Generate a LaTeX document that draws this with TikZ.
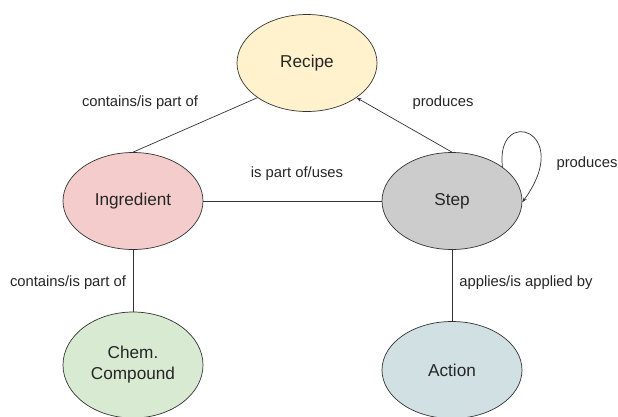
\documentclass[tikz,border=0pt]{standalone}
\usepackage{fontspec}
\setmainfont{Liberation Sans}
\usetikzlibrary{shapes.geometric,arrows.meta}
\definecolor{cRecipe}{HTML}{FFF2CC}
\definecolor{cIngr}{HTML}{F4CCCC}
\definecolor{cStep}{HTML}{CCCCCC}
\definecolor{cChem}{HTML}{D9EAD3}
\definecolor{cAction}{HTML}{D0E0E3}
\definecolor{cLine}{HTML}{333333}
\begin{document}
\begin{tikzpicture}[x=1pt,y=-1pt,
  ent/.style={ellipse,draw=cLine,line width=0.7pt,minimum width=140pt,minimum height=97pt,inner sep=0pt,font=\fontsize{17.2}{21}\selectfont,align=center,text=black!85},
  lbl/.style={font=\fontsize{14.8}{18}\selectfont,text=black!85},
  conn/.style={draw=cLine,line width=0.7pt},
  tip/.style={-{Stealth[length=5pt,width=3.5pt]}}]
\useasboundingbox[fill=white] (0,0) rectangle (618,416);
\node[ent,fill=cRecipe] (rec) at (307,63) {Recipe};
\node[ent,fill=cIngr] (ing) at (133,201) {Ingredient};
\node[ent,fill=cStep] (stp) at (452,201) {Step};
\node[ent,fill=cChem,minimum height=106pt] (chem) at (133,365) {Chem.\\Compound};
\node[ent,fill=cAction] (act) at (452,370) {Action};

\draw[conn] (ing.north) -- (rec.215);
\draw[conn,tip] (stp.north) -- (rec.325);
\draw[conn] (ing.east) -- (stp.west);
\draw[conn] (ing.south) -- (chem.north);
\draw[conn] (stp.south) -- (act.north);
\draw[conn,tip] (stp.34) .. controls (495,105) and (575,130) .. (stp.-1);

\node[lbl] (l1) at (140,103) {contains/is part of};
\node[lbl] (l2) at (443,103) {produces};
\node[lbl] (l3) at (587,164) {produces};
\node[lbl] (l4) at (297,174) {is part of/uses};
\node[lbl] (l5) at (68,283) {contains/is part of};
\node[lbl] (l6) at (526,283) {applies/is applied by};
\end{tikzpicture}
\end{document}
